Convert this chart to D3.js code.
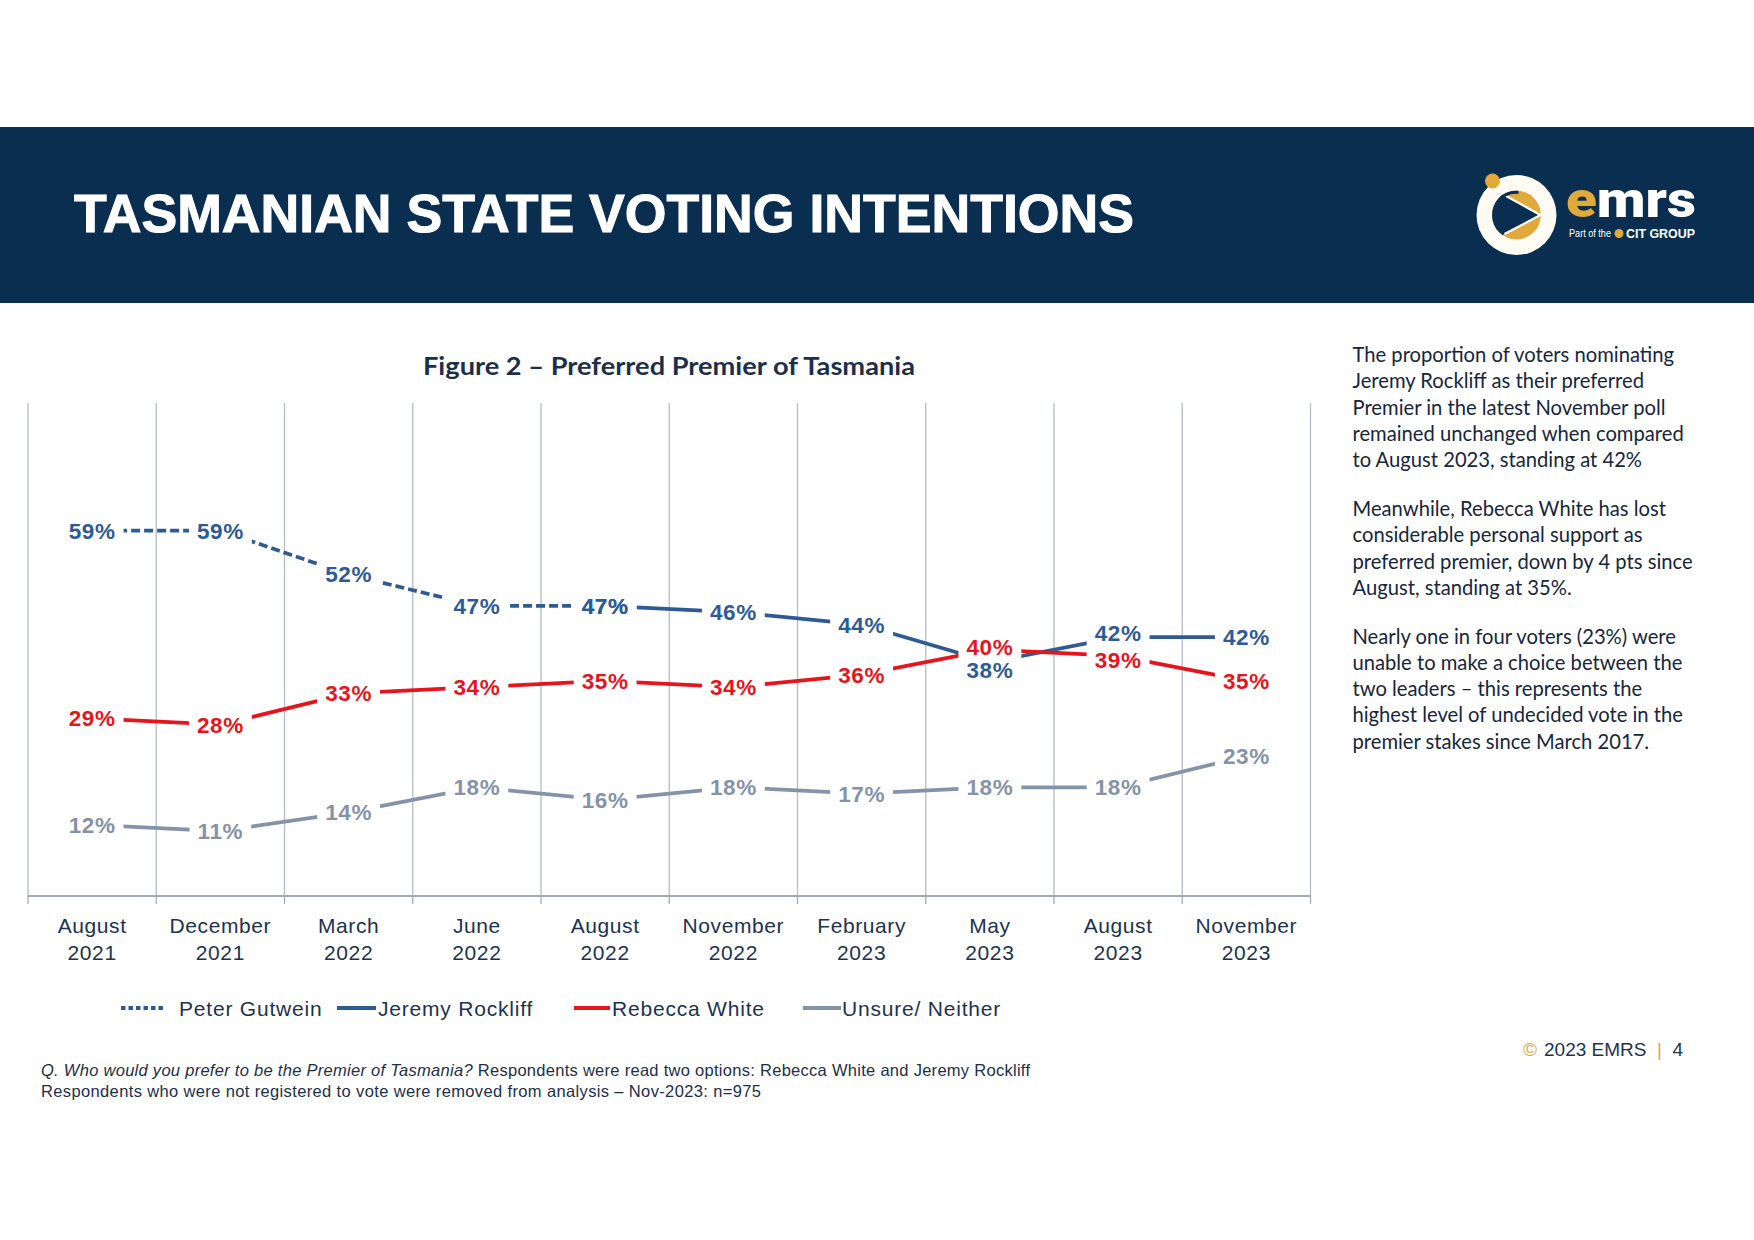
<!DOCTYPE html>
<html>
<head>
<meta charset="utf-8">
<script src="https://cdn.jsdelivr.net/npm/d3@7"></script>
<style>
  html, body { margin: 0; padding: 0; background: #ffffff; }
  svg { display: block; }
</style>
</head>
<body>
<div id="chart"></div>
<script>
// ---------------- DATA ----------------
const categories = ["August 2021", "December 2021", "March 2022", "June 2022", "August 2022",
                    "November 2022", "February 2023", "May 2023", "August 2023", "November 2023"];
const gutwein  = [59, 59, 52, 47, 47, null, null, null, null, null];
const rockliff = [null, null, null, null, 47, 46, 44, 38, 42, 42];
const rebecca  = [29, 28, 33, 34, 35, 34, 36, 40, 39, 35];
const unsure   = [12, 11, 14, 18, 16, 18, 17, 18, 18, 23];
const seriesNames = ["Peter Gutwein", "Jeremy Rockliff", "Rebecca White", "Unsure/ Neither"];

const pageTitle = "TASMANIAN STATE VOTING INTENTIONS";
const chartTitle = "Figure 2 \u2013 Preferred Premier of Tasmania";
const commentary = [
  ["The proportion of voters nominating", "Jeremy Rockliff as their preferred", "Premier in the latest November poll",
   "remained unchanged when compared", "to August 2023, standing at 42%"],
  ["Meanwhile, Rebecca White has lost", "considerable personal support as",
   "preferred premier, down by 4 pts since", "August, standing at 35%."],
  ["Nearly one in four voters (23%) were", "unable to make a choice between the",
   "two leaders \u2013 this represents the", "highest level of undecided vote in the",
   "premier stakes since March 2017."]
];

// ---------------- STYLE ----------------
const NAVY = "#0a2e50";
const GOLD = "#e1a93a";
const BLUE = "#2e5b95";
const RED = "#e8141c";
const GRAY = "#8593a8";
const TEXT = "#1b3350";

const series = [
  { name: seriesNames[0], values: gutwein,  color: BLUE, dash: "9,4" },
  { name: seriesNames[1], values: rockliff, color: BLUE, dash: null },
  { name: seriesNames[2], values: rebecca,  color: RED,  dash: null },
  { name: seriesNames[3], values: unsure,   color: GRAY, dash: null }
];

const W = 1754, H = 1240;
const svg = d3.select("#chart").append("svg")
  .attr("width", W).attr("height", H).attr("viewBox", `0 0 ${W} ${H}`);

svg.append("rect").attr("width", W).attr("height", H).attr("fill", "#fff");

// ---------------- HEADER ----------------
svg.append("rect").attr("x", 0).attr("y", 127).attr("width", W).attr("height", 176).attr("fill", NAVY);
svg.append("text").attr("x", 74).attr("y", 232)
  .attr("font-family", "'Liberation Sans', Arial, sans-serif").attr("font-weight", "bold")
  .attr("font-size", 53.6).attr("fill", "#fff").attr("stroke", "#fff").attr("stroke-width", 1)
  .text(pageTitle);

// logo
const logo = svg.append("g");
const cx = 1516.5, cy = 215;
logo.append("circle").attr("cx", cx).attr("cy", cy).attr("r", 40).attr("fill", "#fdfbf2");
logo.append("clipPath").attr("id", "discClip").append("circle").attr("cx", cx).attr("cy", cy).attr("r", 24.5);
const disc = logo.append("g").attr("clip-path", "url(#discClip)");
disc.append("circle").attr("cx", cx).attr("cy", cy).attr("r", 24.5).attr("fill", GOLD);
disc.append("polygon")
  .attr("points", `${cx-30},${cy-30} ${cx-14},${cy-21} ${cx+24},${cy} ${cx-12},${cy+19} ${cx-30},${cy+30}`)
  .attr("fill", NAVY);
disc.append("polyline")
  .attr("points", `${cx-14},${cy-21} ${cx+24},${cy} ${cx-12},${cy+19}`)
  .attr("fill", "none").attr("stroke", "#fff").attr("stroke-width", 2.2);
disc.append("path")
  .attr("d", `M${cx-22},${cy-12} A24.5,24.5 0 0 1 ${cx+2},${cy-24.5} L${cx+2},${cy-21} A21,21 0 0 0 ${cx-19},${cy-10} Z`)
  .attr("fill", NAVY);
logo.append("circle").attr("cx", 1492.5).attr("cy", 181).attr("r", 7.5).attr("fill", GOLD);

const emrs = svg.append("text").attr("x", 1566).attr("y", 217)
  .attr("font-family", "Roboto, 'Liberation Sans', Arial, sans-serif").attr("font-weight", 900)
  .attr("font-size", 50).attr("textLength", 130).attr("lengthAdjust", "spacingAndGlyphs");
emrs.append("tspan").attr("fill", GOLD).text("e");
emrs.append("tspan").attr("fill", "#fff").text("mrs");
svg.append("text").attr("x", 1569).attr("y", 237)
  .attr("font-family", "'Liberation Sans', Arial, sans-serif").attr("font-size", 10)
  .attr("fill", "#fff").attr("textLength", 42).attr("lengthAdjust", "spacingAndGlyphs").text("Part of the");
svg.append("circle").attr("cx", 1619).attr("cy", 233.5).attr("r", 4.5).attr("fill", GOLD);
svg.append("text").attr("x", 1626).attr("y", 238)
  .attr("font-family", "'Liberation Sans', Arial, sans-serif").attr("font-size", 12).attr("font-weight", "bold")
  .attr("fill", "#fff").attr("textLength", 69).attr("lengthAdjust", "spacingAndGlyphs").text("CIT GROUP");

// ---------------- CHART ----------------
const plotTop = 403, plotBottom = 896;
const x = d3.scaleBand().domain(categories).range([28, 1310.5]).padding(0);
const y = d3.scaleLinear().domain([0, 80]).range([900, 399.2]);

svg.append("text").attr("x", 669).attr("y", 375).attr("text-anchor", "middle")
  .attr("font-family", "Lato, 'Open Sans', sans-serif").attr("font-weight", "bold")
  .attr("font-size", 24).attr("fill", "#1c2f4a")
  .attr("textLength", 492).attr("lengthAdjust", "spacingAndGlyphs")
  .text(chartTitle);

// vertical gridlines at band boundaries
const bounds = d3.range(categories.length + 1).map(i => x.range()[0] + i * x.step());
svg.append("g").selectAll("line").data(bounds).join("line")
  .attr("x1", d => d).attr("x2", d => d)
  .attr("y1", plotTop).attr("y2", plotBottom)
  .attr("stroke", "#b3bcc8").attr("stroke-width", 1.3);

// x axis
const axisG = svg.append("g").attr("transform", `translate(0,${plotBottom})`)
  .call(d3.axisBottom(x).tickSize(0).tickPadding(0));
axisG.select(".domain").remove();
axisG.append("line").attr("x1", x.range()[0]).attr("x2", x.range()[1])
  .attr("y1", 0).attr("y2", 0).attr("stroke", "#a3abb7").attr("stroke-width", 2);
axisG.selectAll(".bnd").data(bounds).join("line").attr("class", "bnd")
  .attr("x1", d => d).attr("x2", d => d).attr("y1", 0).attr("y2", 8)
  .attr("stroke", "#a3abb7").attr("stroke-width", 1.3);
axisG.selectAll(".tick text").each(function(d) {
  const t = d3.select(this);
  const parts = d.split(" ");
  t.text(null).attr("y", 0).attr("dy", null)
    .attr("font-family", "'Liberation Sans', Arial, sans-serif").attr("font-size", 21)
    .attr("letter-spacing", 0.6).attr("fill", TEXT);
  t.append("tspan").attr("x", 0).attr("y", 36.5).text(parts[0]);
  t.append("tspan").attr("x", 0).attr("y", 63.5).text(parts[1]);
});

// lines
const lineGen = d3.line()
  .defined(d => d != null)
  .x((d, i) => x(categories[i]) + x.bandwidth() / 2)
  .y(d => y(d));
svg.append("g").selectAll("path").data(series).join("path")
  .attr("d", s => lineGen(s.values))
  .attr("fill", "none")
  .attr("stroke", s => s.color)
  .attr("stroke-width", 3.7)
  .attr("stroke-dasharray", s => s.dash);

// labels with white boxes
const nudge = { "Rebecca White|7": -3, "Jeremy Rockliff|7": 8, "Jeremy Rockliff|8": -4, "Rebecca White|8": 4 };
const labels = [];
series.forEach(s => s.values.forEach((v, i) => {
  if (v == null) return;
  labels.push({ s, v, i, cx: x(categories[i]) + x.bandwidth() / 2,
    cy: y(v) + (nudge[s.name + "|" + i] || 0) });
}));
const labelFont = "'Liberation Sans', Arial, sans-serif";
const boxG = svg.append("g");
const txtG = svg.append("g");
labels.forEach(l => {
  const t = txtG.append("text")
    .attr("x", l.cx).attr("y", l.cy + 8)
    .attr("text-anchor", "middle")
    .attr("font-family", labelFont).attr("font-weight", "bold").attr("font-size", 22.5)
    .attr("letter-spacing", 0.6)
    .attr("fill", l.s.color)
    .text(l.v + "%");
  const w = t.node().getComputedTextLength();
  boxG.append("rect").attr("x", l.cx - w / 2 - 8).attr("y", l.cy - 12.5)
    .attr("width", w + 16).attr("height", 25).attr("fill", "#fff");
});

// legend
const legend = svg.append("g").attr("font-family", "'Liberation Sans', Arial, sans-serif")
  .attr("font-size", 21).attr("letter-spacing", 0.8).attr("fill", TEXT);
const legendPos = [
  { x1: 121, x2: 166, tx: 179, dash: "4.5,3" },
  { x1: 337, x2: 376, tx: 378, dash: null },
  { x1: 574, x2: 610, tx: 612, dash: null },
  { x1: 803, x2: 841, tx: 842, dash: null }
];
series.forEach((s, k) => {
  const p = legendPos[k];
  legend.append("line").attr("x1", p.x1).attr("x2", p.x2).attr("y1", 1008).attr("y2", 1008)
    .attr("stroke", s.color).attr("stroke-width", 4).attr("stroke-dasharray", p.dash);
  legend.append("text").attr("x", p.tx).attr("y", 1015.5).text(s.name);
});

// commentary
const comm = svg.append("g").attr("font-family", "Lato, 'Open Sans', sans-serif")
  .attr("font-size", 20.2).attr("fill", "#16263d");
const paraStart = [362, 516, 643.5];
commentary.forEach((para, p) => {
  para.forEach((line, j) => {
    comm.append("text").attr("x", 1352.5).attr("y", paraStart[p] + j * 26.3).text(line);
  });
});

// footnote
const fn = svg.append("g").attr("font-family", "'Liberation Sans', Arial, sans-serif")
  .attr("font-size", 16.5).attr("fill", "#1c2f4a");
const f1 = fn.append("text").attr("x", 41).attr("y", 1076)
  .attr("textLength", 989).attr("lengthAdjust", "spacing");
f1.append("tspan").attr("font-style", "italic").text("Q. Who would you prefer to be the Premier of Tasmania?");
f1.append("tspan").text(" Respondents were read two options: Rebecca White and Jeremy Rockliff");
fn.append("text").attr("x", 41).attr("y", 1097)
  .attr("textLength", 720).attr("lengthAdjust", "spacing")
  .text("Respondents who were not registered to vote were removed from analysis \u2013 Nov-2023: n=975");

// copyright
const cp = svg.append("g").attr("font-family", "'Liberation Sans', Arial, sans-serif").attr("font-size", 19);
cp.append("text").attr("x", 1523).attr("y", 1055.5).attr("fill", GOLD).text("\u00A9");
cp.append("text").attr("x", 1544).attr("y", 1055.5).attr("fill", TEXT).text("2023 EMRS");
cp.append("text").attr("x", 1657).attr("y", 1055.5).attr("fill", GOLD).text("|");
cp.append("text").attr("x", 1672.5).attr("y", 1055.5).attr("fill", TEXT).text("4");
</script>
</body>
</html>
